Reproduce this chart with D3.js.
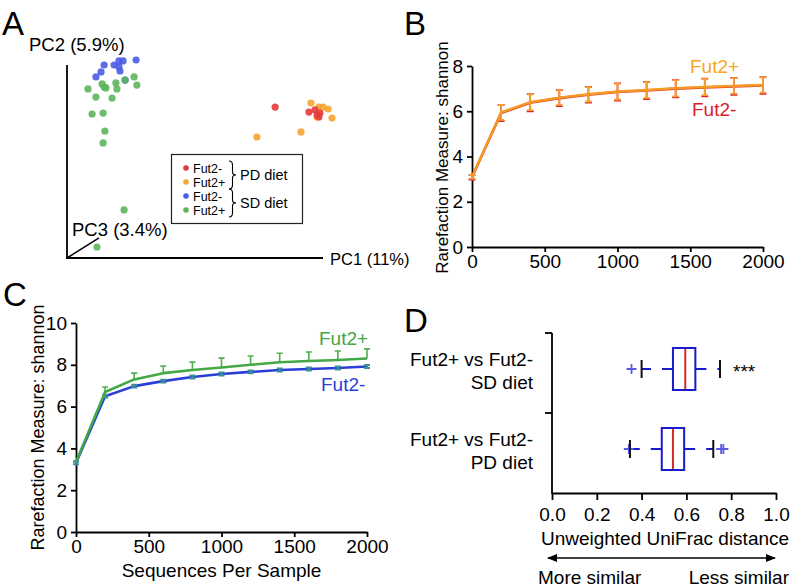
<!DOCTYPE html>
<html><head><meta charset="utf-8">
<script src="https://cdn.jsdelivr.net/npm/d3@7"></script>
<style>body{margin:0;background:#fff}svg{display:block;font-family:"Liberation Sans",Arial,sans-serif}</style>
</head><body><svg id="c" width="796" height="588"></svg>
<script>
// ---------- Panel A: PCoA scatter (arbitrary PC units) ----------
const pcaLegend = ["Fut2-", "Fut2+", "Fut2-", "Fut2+"];
const pcaDiets = ["PD diet", "SD diet"];
const pdMinusPC1 = [81.3, 94.5, 96.9, 98.8, 98.4, 97.7];
const pdMinusPC2 = [78.2, 75.6, 76.7, 75.1, 73.1, 74.1];
const pdPlusPC1 = [95.3, 98.4, 100.0, 102.0, 103.5, 74.2, 91.4, 97.7];
const pdPlusPC2 = [80.3, 78.2, 78.2, 77.2, 72.5, 62.7, 65.3, 73.1];
const sdMinusPC1 = [14.5, 18.4, 20.3, 21.9, 27.0, 20.3, 20.7, 13.3, 11.3, 22.7];
const sdMinusPC2 = [100.0, 100.0, 102.1, 102.1, 102.6, 99.0, 96.9, 96.4, 93.8, 92.2];
const sdPlusPC1 = [8.2, 13.7, 14.5, 15.2, 19.1, 19.5, 22.7, 26.2, 27.3, 11.3, 17.6, 9.8, 14.1, 14.8, 14.1, 22.3, 11.7];
const sdPlusPC2 = [87.6, 90.2, 88.6, 88.1, 90.7, 87.6, 92.2, 93.8, 89.6, 83.4, 82.9, 74.6, 75.1, 65.8, 59.6, 24.9, 5.7];

// ---------- Panel B: rarefaction, PD diet ----------
const depthsB = [0, 200, 400, 600, 800, 1000, 1200, 1400, 1600, 1800, 2000];
const bPlusMean = [3.1, 5.95, 6.4, 6.6, 6.75, 6.87, 6.94, 7.02, 7.07, 7.12, 7.16];
const bPlusSd = [0.08, 0.33, 0.35, 0.32, 0.32, 0.35, 0.35, 0.36, 0.36, 0.34, 0.34];
const bMinusMean = [3.08, 5.92, 6.38, 6.58, 6.73, 6.85, 6.92, 7.0, 7.05, 7.1, 7.14];
const bMinusSd = [0.1, 0.36, 0.38, 0.35, 0.35, 0.38, 0.38, 0.39, 0.39, 0.37, 0.37];
const xTicksRare = [0, 500, 1000, 1500, 2000];
const yTicksB = [0, 2, 4, 6, 8];

// ---------- Panel C: rarefaction, SD diet ----------
const depthsC = [0, 200, 400, 600, 800, 1000, 1200, 1400, 1600, 1800, 2000];
const cPlusMean = [3.35, 6.7, 7.3, 7.6, 7.75, 7.87, 8.0, 8.12, 8.18, 8.23, 8.3];
const cPlusSd = [0.05, 0.24, 0.3, 0.34, 0.38, 0.45, 0.42, 0.43, 0.43, 0.43, 0.46];
const cMinusMean = [3.3, 6.5, 6.98, 7.22, 7.42, 7.56, 7.66, 7.75, 7.8, 7.85, 7.92];
const cMinusSd = [0.06, 0.07, 0.07, 0.07, 0.07, 0.07, 0.07, 0.07, 0.07, 0.07, 0.07];
const yTicksC = [0, 2, 4, 6, 8, 10];

// ---------- Panel D: UniFrac distance box plots ----------
const boxCats = ["SD diet", "PD diet"];
const boxQ1 = [0.54, 0.49];
const boxMed = [0.595, 0.54];
const boxQ3 = [0.64, 0.59];
const boxLo = [0.40, 0.348];
const boxHi = [0.75, 0.72];
const boxOutliers = [[0.355], [0.343, 0.755, 0.765]];
const boxSig = ["***", ""];
const xTicksD = [0, 0.2, 0.4, 0.6, 0.8, 1.0];

const RED = "#e5383b", ORANGE = "#f5a431", BLUE = "#4a5ce6", GREEN = "#5bb65b";
const svg = d3.select("#c");
const FONT = '"Liberation Sans", Arial, sans-serif';

function panelLetter(t, x, y) {
  svg.append("text").attr("x", x).attr("y", y).attr("font-size", 33).text(t);
}
function styleAxis(g, fs) {
  g.attr("font-family", FONT).attr("font-size", fs);
  g.selectAll("path,line").attr("stroke", "#000").attr("stroke-width", 1.8);
  g.selectAll("text").attr("fill", "#000");
}

// ================= Panel A =================
panelLetter("A", 2, 35);
const xA = d3.scaleLinear().domain([0, 100]).range([67, 323]);
const yA = d3.scaleLinear().domain([0, 100]).range([258, 65]);
const gA = svg.append("g");
gA.append("line").attr("x1", xA(0)).attr("y1", yA(100)).attr("x2", xA(0)).attr("y2", yA(0)).attr("stroke", "#000").attr("stroke-width", 1.8);
gA.append("line").attr("x1", xA(0) - 1).attr("y1", yA(0)).attr("x2", xA(100)).attr("y2", yA(0)).attr("stroke", "#000").attr("stroke-width", 1.8);
gA.append("line").attr("x1", xA(0)).attr("y1", yA(0)).attr("x2", xA(12.5)).attr("y2", yA(10.4)).attr("stroke", "#000").attr("stroke-width", 1.5);
gA.append("text").attr("x", 29).attr("y", 51).attr("font-size", 18.5).text("PC2 (5.9%)");
gA.append("text").attr("x", 72).attr("y", 236).attr("font-size", 18.5).text("PC3 (3.4%)");
gA.append("text").attr("x", 330).attr("y", 265).attr("font-size", 16.5).text("PC1 (11%)");

const groupsA = [
  {x: sdMinusPC1, y: sdMinusPC2, c: BLUE},
  {x: sdPlusPC1, y: sdPlusPC2, c: GREEN},
  {x: pdPlusPC1, y: pdPlusPC2, c: ORANGE},
  {x: pdMinusPC1, y: pdMinusPC2, c: RED}
];
groupsA.forEach(gr => {
  gA.selectAll(null).data(gr.x.map((v, i) => [v, gr.y[i]])).enter().append("circle")
    .attr("cx", d => xA(d[0])).attr("cy", d => yA(d[1])).attr("r", 3.6)
    .attr("fill", gr.c).attr("fill-opacity", 0.9);
});
// legend
const lg = gA.append("g");
lg.append("rect").attr("x", 171.5).attr("y", 154.5).attr("width", 131).attr("height", 69)
  .attr("fill", "#fff").attr("stroke", "#222").attr("stroke-width", 1.2);
const legCols = [RED, ORANGE, BLUE, GREEN];
const legY = [168, 182, 196, 210];
pcaLegend.forEach((t, i) => {
  lg.append("circle").attr("cx", 186).attr("cy", legY[i]).attr("r", 2.8).attr("fill", legCols[i]);
  lg.append("text").attr("x", 193).attr("y", legY[i] + 4.5).attr("font-size", 12.5).text(t);
});
function brace(x, y0, y1) {
  const m = (y0 + y1) / 2;
  return `M${x},${y0} Q${x + 3.5},${y0} ${x + 3.5},${y0 + 4} L${x + 3.5},${m - 3} Q${x + 3.5},${m} ${x + 7},${m} Q${x + 3.5},${m} ${x + 3.5},${m + 3} L${x + 3.5},${y1 - 4} Q${x + 3.5},${y1} ${x},${y1}`;
}
pcaDiets.forEach((t, i) => {
  const y0 = legY[i * 2] - 7, y1 = legY[i * 2 + 1] + 7;
  lg.append("path").attr("d", brace(229, y0, y1)).attr("fill", "none").attr("stroke", "#000").attr("stroke-width", 1.1);
  lg.append("text").attr("x", 240).attr("y", (y0 + y1) / 2 + 5).attr("font-size", 14.5).text(t);
});

// ================= Panel B =================
panelLetter("B", 404, 35);
const xB = d3.scaleLinear().domain([0, 2000]).range([472, 763]);
const yB = d3.scaleLinear().domain([0, 8]).range([247, 66]);
const gB = svg.append("g");
const axBx = gB.append("g").attr("transform", `translate(0,${yB(0)})`)
  .call(d3.axisBottom(xB).tickValues(xTicksRare).tickFormat(d3.format("d")).tickSize(5).tickSizeOuter(0).tickPadding(3));
styleAxis(axBx, 19);
const axBy = gB.append("g").attr("transform", `translate(${xB(0)},0)`)
  .call(d3.axisLeft(yB).tickValues(yTicksB).tickSize(5).tickSizeOuter(0).tickPadding(4));
styleAxis(axBy, 19);
gB.append("text").attr("transform", `translate(442,${(yB(0) + yB(8)) / 2 + 1}) rotate(-90)`)
  .attr("text-anchor", "middle").attr("dominant-baseline", "central").attr("font-size", 17)
  .text("Rarefaction Measure: shannon");

function errBars(g, xs, ys, xd, mean, sd, color, cap, upOnly, w) {
  g.selectAll(null).data(xd).enter().append("path")
    .attr("d", (d, i) => {
      const x = xs(d), yt = ys(mean[i] + sd[i]), yb = upOnly ? ys(mean[i]) : ys(mean[i] - sd[i]);
      let p = `M${x},${yt}L${x},${yb}M${x - cap},${yt}L${x + cap},${yt}`;
      if (!upOnly) p += `M${x - cap},${yb}L${x + cap},${yb}`;
      return p;
    })
    .attr("stroke", color).attr("stroke-width", w).attr("fill", "none");
}
function lineSeries(g, xs, ys, xd, mean, color, w) {
  g.append("path").datum(xd.map((d, i) => [d, mean[i]]))
    .attr("d", d3.line().x(d => xs(d[0])).y(d => ys(d[1])))
    .attr("fill", "none").attr("stroke", color).attr("stroke-width", w).attr("stroke-linejoin", "round");
}
errBars(gB, xB, yB, depthsB, bMinusMean, bMinusSd, "#d9262c", 3.5, false, 1.8);
lineSeries(gB, xB, yB, depthsB, bMinusMean, "#e2412a", 2.6);
errBars(gB, xB, yB, depthsB, bPlusMean, bPlusSd, "#f7a130", 3, false, 1.8);
lineSeries(gB, xB, yB, depthsB, bPlusMean, "#f59a25", 2.4);
gB.append("text").attr("x", 690).attr("y", 73).attr("font-size", 19).attr("fill", "#f5a623").text("Fut2+");
gB.append("text").attr("x", 692).attr("y", 116).attr("font-size", 19).attr("fill", "#d8202a").text("Fut2-");

// ================= Panel C =================
panelLetter("C", 3, 306);
const xC = d3.scaleLinear().domain([0, 2000]).range([76, 367]);
const yC = d3.scaleLinear().domain([0, 10]).range([532, 323]);
const gC = svg.append("g");
const axCx = gC.append("g").attr("transform", `translate(0,${yC(0)})`)
  .call(d3.axisBottom(xC).tickValues(xTicksRare).tickFormat(d3.format("d")).tickSize(5).tickSizeOuter(0).tickPadding(3));
styleAxis(axCx, 19);
const axCy = gC.append("g").attr("transform", `translate(${xC(0)},0)`)
  .call(d3.axisLeft(yC).tickValues(yTicksC).tickSize(5).tickSizeOuter(0).tickPadding(4));
styleAxis(axCy, 19);
gC.append("text").attr("transform", `translate(38,${(yC(0) + yC(10)) / 2}) rotate(-90)`)
  .attr("text-anchor", "middle").attr("dominant-baseline", "central").attr("font-size", 18)
  .text("Rarefaction Measure: shannon");
gC.append("text").attr("x", (xC(0) + xC(2000)) / 2).attr("y", 577).attr("text-anchor", "middle")
  .attr("font-size", 19).text("Sequences Per Sample");
errBars(gC, xC, yC, depthsC, cPlusMean, cPlusSd, "#4fae4f", 3, true, 1.6);
lineSeries(gC, xC, yC, depthsC, cMinusMean, "#2b3fd8", 2.6);
errBars(gC, xC, yC, depthsC, cMinusMean, cMinusSd, "#3d8f9a", 3, false, 2);
lineSeries(gC, xC, yC, depthsC, cPlusMean, "#43a846", 2.6);
gC.append("text").attr("x", 319).attr("y", 345).attr("font-size", 19).attr("fill", "#46a546").text("Fut2+");
gC.append("text").attr("x", 321).attr("y", 391).attr("font-size", 19).attr("fill", "#2b3fd8").text("Fut2-");

// ================= Panel D =================
panelLetter("D", 404, 332);
const xD = d3.scaleLinear().domain([0, 1]).range([552, 776]);
const yD = d3.scaleBand().domain(boxCats).range([333, 493]);
const gD = svg.append("g");
const axDx = gD.append("g").attr("transform", `translate(0,493)`)
  .call(d3.axisBottom(xD).tickValues(xTicksD).tickFormat(d3.format(".1f")).tickSize(7).tickSizeOuter(0).tickPadding(8));
styleAxis(axDx, 19);
gD.append("line").attr("x1", xD(0)).attr("x2", xD(0)).attr("y1", 333).attr("y2", 494).attr("stroke", "#000").attr("stroke-width", 1.8);
boxCats.forEach(c => {
  gD.append("line").attr("x1", xD(0) - 7).attr("x2", xD(0)).attr("y1", yD(c)).attr("y2", yD(c)).attr("stroke", "#000").attr("stroke-width", 1.8);
});
boxCats.forEach((c, i) => {
  const cy = yD(c) + yD.bandwidth() / 2 - 4;
  gD.append("text").attr("x", 533).attr("y", cy - 3).attr("text-anchor", "end").attr("font-size", 19).text("Fut2+ vs Fut2-");
  gD.append("text").attr("x", 533).attr("y", cy + 20).attr("text-anchor", "end").attr("font-size", 19).text(c);
  const h = 42;
  gD.append("line").attr("x1", xD(boxQ1[i])).attr("x2", xD(boxLo[i])).attr("y1", cy).attr("y2", cy)
    .attr("stroke", "#1a1acb").attr("stroke-width", 2).attr("stroke-dasharray", "11,11");
  gD.append("line").attr("x1", xD(boxQ3[i])).attr("x2", xD(boxHi[i])).attr("y1", cy).attr("y2", cy)
    .attr("stroke", "#1a1acb").attr("stroke-width", 2).attr("stroke-dasharray", "11,11");
  boxOutliers[i].forEach(o => {
    gD.append("path").attr("d", `M${xD(o) - 5},${cy}L${xD(o) + 5},${cy}M${xD(o)},${cy - 5}L${xD(o)},${cy + 5}`)
      .attr("stroke", "#5a5ae0").attr("stroke-width", 1.8);
  });
  [boxLo[i], boxHi[i]].forEach(v => {
    gD.append("line").attr("x1", xD(v)).attr("x2", xD(v)).attr("y1", cy - 9).attr("y2", cy + 9)
      .attr("stroke", "#111").attr("stroke-width", 2);
  });
  gD.append("rect").attr("x", xD(boxQ1[i])).attr("y", cy - h / 2).attr("width", xD(boxQ3[i]) - xD(boxQ1[i])).attr("height", h)
    .attr("fill", "none").attr("stroke", "#1a1acb").attr("stroke-width", 2);
  gD.append("line").attr("x1", xD(boxMed[i])).attr("x2", xD(boxMed[i])).attr("y1", cy - h / 2 + 1).attr("y2", cy + h / 2 - 1)
    .attr("stroke", "#d42a2a").attr("stroke-width", 2);
  if (boxSig[i]) gD.append("text").attr("x", 733).attr("y", cy + 9).attr("font-size", 19).text(boxSig[i]);
});
gD.append("text").attr("x", 665).attr("y", 545).attr("text-anchor", "middle").attr("font-size", 19).text("Unweighted UniFrac distance");
svg.append("defs").append("marker").attr("id", "ah").attr("viewBox", "0 0 10 10").attr("refX", 9).attr("refY", 5)
  .attr("markerWidth", 8).attr("markerHeight", 8).attr("orient", "auto-start-reverse")
  .append("path").attr("d", "M0,1 L10,5 L0,9 z").attr("fill", "#000");
gD.append("line").attr("x1", 548).attr("x2", 775).attr("y1", 558).attr("y2", 558).attr("stroke", "#000").attr("stroke-width", 1.3)
  .attr("marker-start", "url(#ah)").attr("marker-end", "url(#ah)");
gD.append("text").attr("x", 538).attr("y", 584).attr("font-size", 19).text("More similar");
gD.append("text").attr("x", 789).attr("y", 584).attr("text-anchor", "end").attr("font-size", 19).text("Less similar");
</script></body></html>
